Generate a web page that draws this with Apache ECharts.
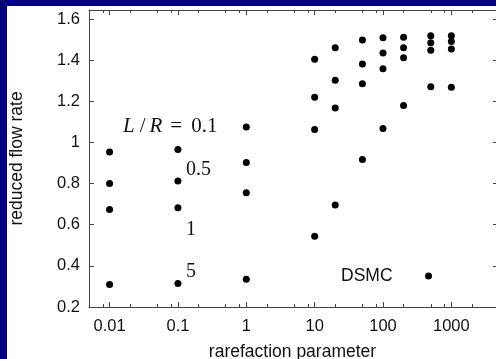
<!DOCTYPE html>
<html>
<head>
<meta charset="utf-8">
<script src="https://cdn.jsdelivr.net/npm/echarts@6/dist/echarts.min.js"></script>
<style>
html,body{margin:0;padding:0;background:#000080;}
#c{width:496px;height:359px;}
</style>
</head>
<body>
<div id="c"></div>
<script>
// rarefaction parameter values (x), one point per value for each L/R
const rarefaction = [0.01, 0.1, 1, 10, 20, 50, 100, 200, 500, 1000];
// reduced flow rate for each L/R
const flowLR01 = [0.954, 0.966, 1.075, 1.404, 1.460, 1.498, 1.509, 1.511, 1.519, 1.519];
const flowLR05 = [0.800, 0.812, 0.903, 1.220, 1.302, 1.382, 1.435, 1.460, 1.485, 1.491];
const flowLR1  = [0.674, 0.682, 0.755, 1.063, 1.167, 1.285, 1.358, 1.412, 1.448, 1.454];
const flowLR5  = [0.310, 0.314, 0.335, 0.544, 0.696, 0.917, 1.068, 1.180, 1.271, 1.268];
// axis ticks
const xTickValues = [0.01, 0.1, 1, 10, 100, 1000];
const xTickLabels = ['0.01', '0.1', '1', '10', '100', '1000'];
const xMinorTicks = [0.008, 0.02, 0.05, 0.08, 0.2, 0.5, 0.8, 2, 5, 8, 20, 50, 80, 200, 500, 800, 2000];
const yTickValues = [0.2, 0.4, 0.6, 0.8, 1, 1.2, 1.4, 1.6];
const xRange = [0.005, 4500];
const yRange = [0.2, 1.644];

const lg = Math.log10;
const FONT = 'Liberation Sans, Arial, sans-serif';

function pts(ys){ return rarefaction.map((x,i)=>[lg(x), ys[i]]); }
function labelOf(v){
  const i = xTickValues.findIndex(t => Math.abs(lg(t)-v) < 1e-6);
  return i >= 0 ? xTickLabels[i] : '';
}

const axisLineStyle = {color:'#444', width:1};
function xAx(pos, minor){
  return {
    type:'value', position:pos, min:lg(xRange[0]), max:lg(xRange[1]),
    axisLine:{show:!minor, onZero:false, lineStyle:axisLineStyle},
    axisTick:{show:true, inside:true, length: minor?3:5, lineStyle:axisLineStyle,
      customValues: (minor? xMinorTicks : xTickValues).map(lg)},
    axisLabel:{show: pos==='bottom' && !minor, customValues: xTickValues.map(lg),
      formatter: labelOf, fontFamily:FONT, fontSize:16.5, color:'#111', margin:11},
    splitLine:{show:false},
    name: (pos==='bottom' && !minor) ? 'rarefaction parameter' : '',
    nameLocation:'middle', nameGap:36,
    nameTextStyle:{fontFamily:FONT, fontSize:17.5, color:'#111'}
  };
}
function yAx(pos){
  const left = pos==='left';
  return {
    type:'value', position:pos, min:yRange[0], max:yRange[1],
    axisLine:{show:left, onZero:false, lineStyle:axisLineStyle},
    axisTick:{show:true, inside:true, length: left?5:3, lineStyle:axisLineStyle, customValues:yTickValues},
    axisLabel:{show:left, customValues:yTickValues, fontFamily:FONT, fontSize:16.5, color:'#111', margin:9},
    splitLine:{show:false},
    name: left ? 'reduced flow rate' : '',
    nameLocation:'middle', nameGap:63,
    nameTextStyle:{fontFamily:FONT, fontSize:17.5, color:'#111'}
  };
}

function ser(ys){
  return {name:'DSMC', type:'scatter', xAxisIndex:0, yAxisIndex:0, data:pts(ys),
    symbol:'circle', symbolSize:7, itemStyle:{color:'#000', opacity:1}, silent:true};
}

const chart = echarts.init(document.getElementById('c'), null, {renderer:'canvas'});
chart.setOption({
  animation:false,
  backgroundColor:'#000080',
  grid:{left:89, right:0, top:10, bottom:52, containLabel:false, outerBoundsMode:'none'},
  xAxis:[xAx('bottom',false), xAx('bottom',true), xAx('top',false), xAx('top',true)],
  yAxis:[yAx('left'), yAx('right')],
  legend:{data:['DSMC'], left:341, top:267, padding:0, align:'right', icon:'circle',
    itemWidth:62, itemHeight:7, selectedMode:false,
    textStyle:{fontFamily:FONT, fontSize:17.5, color:'#111'}},
  graphic:[
    {type:'rect', left:7, top:6, shape:{width:489, height:353}, style:{fill:'#fff'}, z:-10, silent:true},
    {type:'text', x:123, y:126, style:{text:'{i|L}{s|/}{i|R}{e|=}{n|0.1}', fill:'#111',
      font:'21px Liberation Serif', textVerticalAlign:'middle',
      rich:{
        i:{fontStyle:'italic', fontFamily:'Liberation Serif', fontSize:21},
        s:{fontFamily:'Liberation Serif', fontSize:21, padding:[0,4,0,5]},
        e:{fontFamily:'Liberation Serif', fontSize:21, padding:[0,9,0,8]},
        n:{fontFamily:'Liberation Serif', fontSize:21}
      }}, z:5},
    {type:'text', x:186, y:170, style:{text:'0.5', fill:'#111', font:'20px Liberation Serif', textVerticalAlign:'middle'}, z:5},
    {type:'text', x:186, y:230, style:{text:'1', fill:'#111', font:'20px Liberation Serif', textVerticalAlign:'middle'}, z:5},
    {type:'text', x:186, y:272, style:{text:'5', fill:'#111', font:'20px Liberation Serif', textVerticalAlign:'middle'}, z:5}
  ],
  series:[ser(flowLR01), ser(flowLR05), ser(flowLR1), ser(flowLR5)]
});
</script>
</body>
</html>
